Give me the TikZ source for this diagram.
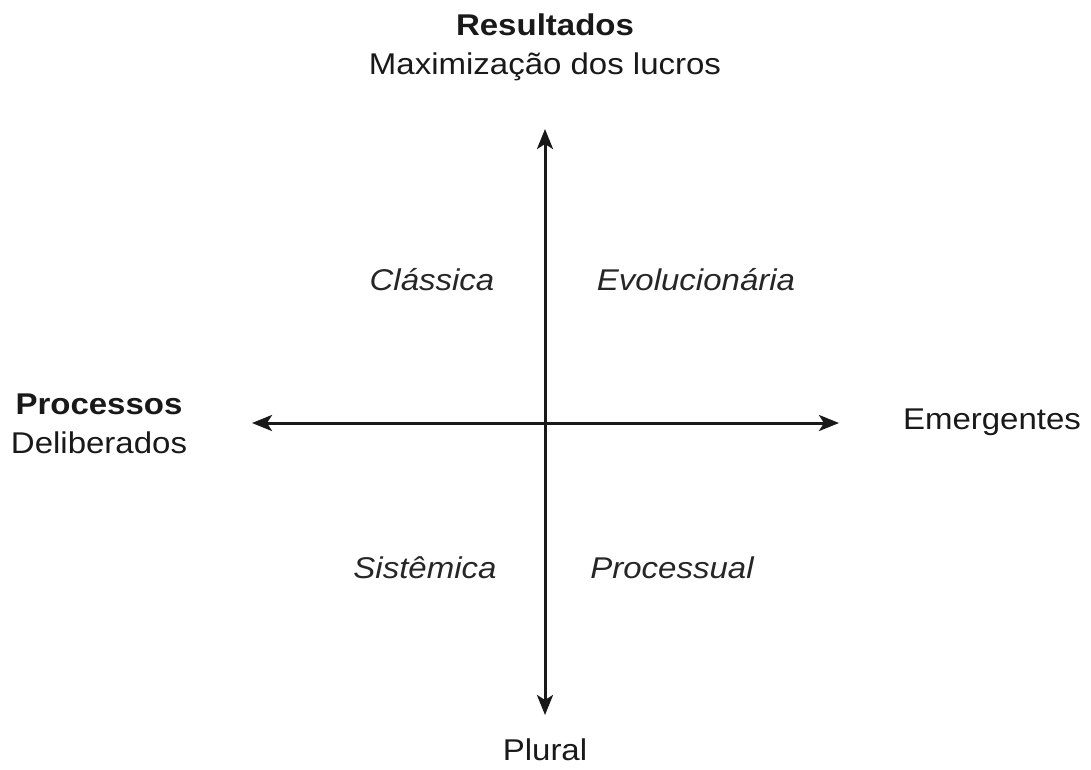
\documentclass[tikz,border=0pt]{standalone}
\usepackage{fontspec}
\setmainfont{Liberation Sans}[FakeStretch=1.1]
\usetikzlibrary{arrows.meta}
\begin{document}
\begin{tikzpicture}[x=1pt,y=-1pt,
  lbl/.style={font=\fontsize{30}{36}\selectfont, anchor=base, inner sep=0pt, text=black!90},
  quad/.style={lbl, font=\fontsize{30}{36}\selectfont\itshape, text=black!85},
  axis/.style={line width=3pt, draw=black!90,
    {Stealth[length=20pt,width=16pt,inset=5pt]}-{Stealth[length=20pt,width=16pt,inset=5pt]}}]
\useasboundingbox (0,0) rectangle (1091,769);
% axis end points
\coordinate (top) at (545,129);
\coordinate (bottom) at (545,715);
\coordinate (left) at (252,423);
\coordinate (right) at (839,423);
\draw[axis] (bottom) -- (top);
\draw[axis] (left) -- (right);
% axis labels
\node[lbl, font=\fontsize{30}{36}\selectfont\bfseries] (res) at (545,35) {Resultados};
\node[lbl] (max) at (545,74) {Maximização dos lucros};
\node[lbl, font=\fontsize{30}{36}\selectfont\bfseries] (proc) at (99,414) {Processos};
\node[lbl] (delib) at (99,453) {Deliberados};
\node[lbl] (emer) at (992,429) {Emergentes};
\node[lbl] (plural) at (545,760) {Plural};
% quadrant labels
\node[quad] (classica) at (432,290) {Clássica};
\node[quad] (evol) at (696,290) {Evolucionária};
\node[quad] (sist) at (425,578) {Sistêmica};
\node[quad] (processual) at (672,578) {Processual};
\end{tikzpicture}
\end{document}
